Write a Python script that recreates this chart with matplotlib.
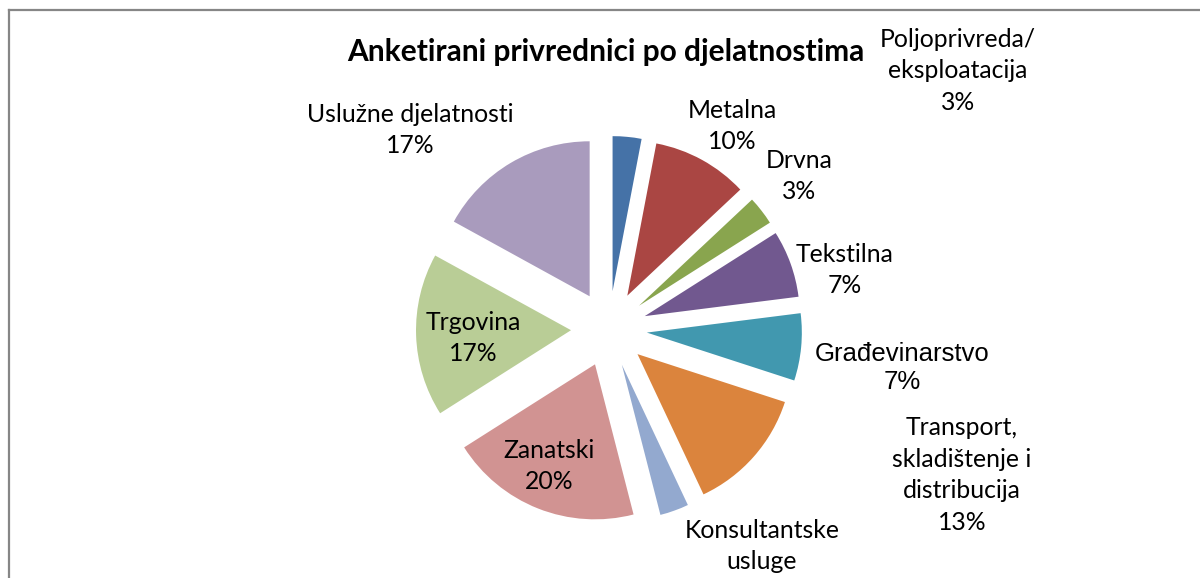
import matplotlib
matplotlib.use("Agg")
import matplotlib.pyplot as plt
from matplotlib.lines import Line2D

# data
sectors = ["Poljoprivreda/\neksploatacija", "Metalna", "Drvna", "Tekstilna",
           "Građevinarstvo", "Transport,\nskladištenje i\ndistribucija",
           "Konsultantske\nusluge", "Zanatski", "Trgovina", "Uslužne djelatnosti"]
shares = [3, 10, 3, 7, 7, 13, 3, 20, 17, 17]
colors = ["#4572A7", "#AA4643", "#89A54E", "#71588F", "#4198AF",
          "#DB843D", "#93A9CF", "#D19392", "#B9CD96", "#A99BBD"]
show_pct = [True, True, True, True, True, True, False, True, True, True]

# label centres in pixel space (layout only)
label_xy = [(958, 71), (732, 126), (799, 176), (845, 270), (902, 368),
            (962, 475), (762, 546), (549, 466), (473, 338), (410, 130)]

W, H = 1200, 578
fig = plt.figure(figsize=(W / 100, H / 100), dpi=100)
ax = fig.add_axes([0, 0, 1, 1])
ax.set_xlim(0, W)
ax.set_ylim(0, H)
ax.set_aspect("equal")
ax.axis("off")

ax.pie(shares, colors=colors, startangle=90, counterclock=False,
       center=(609, H - 329), radius=155, explode=[38] * len(shares),
       wedgeprops=dict(linewidth=0))
ax.set_xlim(0, W)
ax.set_ylim(0, H)

for name, v, pct, (x, y) in zip(sectors, shares, show_pct, label_xy):
    txt = f"{name}\n{v}%" if pct else name
    if name.startswith("Građ"):
        fam, fs, ls = "Liberation Sans", 18.5, 1.26
    else:
        fam, fs, ls = "Lato", 17.8, 1.45
    ax.text(x, H - y, txt, ha="center", va="center", multialignment="center",
            fontsize=fs, family=fam, linespacing=ls, color="black")

ax.text(606, H - 52, "Anketirani privrednici po djelatnostima", ha="center",
        va="center", fontsize=21.5, fontweight="bold", family="Lato")

# frame (only top and left visible in the crop)
fig.add_artist(Line2D([9 / W, 9 / W], [0, 1 - 10 / H], transform=fig.transFigure,
                      color="#868686", lw=1.6))
fig.add_artist(Line2D([9 / W, 1], [1 - 10 / H, 1 - 10 / H], transform=fig.transFigure,
                      color="#868686", lw=1.6))

fig.savefig("out.png", dpi=100)
